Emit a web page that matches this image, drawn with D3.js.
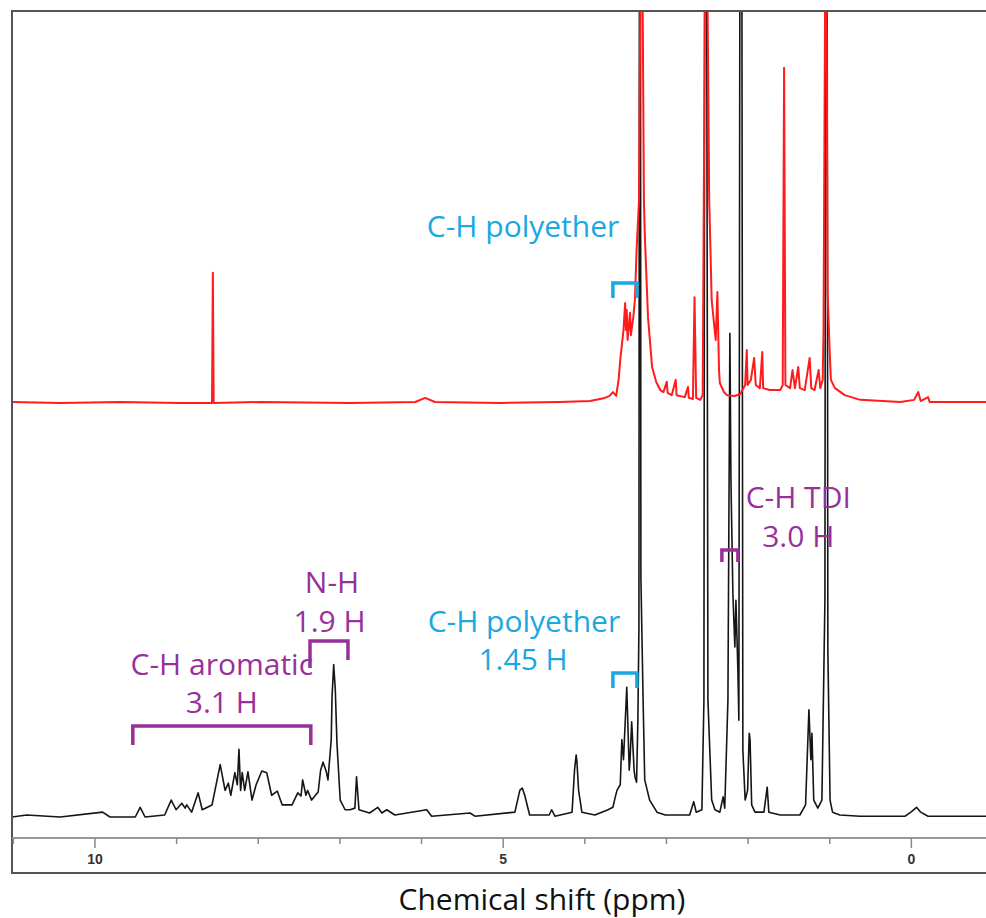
<!DOCTYPE html>
<html>
<head>
<meta charset="utf-8">
<script src="https://d3js.org/d3.v7.min.js"></script>
<style>
  body { margin: 0; background: #fff; }
  svg { display: block; }
</style>
</head>
<body>
<svg></svg>
<script>

// black trace (lower): [ppm, intensity a.u.]
var blackSpectrum = [
  [11.01,0],[10.83,0.25],[10.42,0],[9.90,0.6],[9.81,0],[9.50,0],[9.44,1.2],[9.38,0],
  [9.14,0.25],[9.06,2.1],[9.00,0.9],[8.93,1.7],[8.89,1.1],[8.87,1.5],[8.81,0.6],[8.73,3.0],
  [8.68,0.9],[8.56,1.5],[8.46,6.5],[8.40,3.3],[8.36,4.2],[8.33,2.7],[8.28,5.5],[8.25,4.0],
  [8.23,8.4],[8.21,3.3],[8.19,5.5],[8.16,3.3],[8.12,5.6],[8.07,2.1],[8.02,4.0],[7.95,5.7],
  [7.89,5.5],[7.83,2.7],[7.76,3.2],[7.70,1.5],[7.58,1.5],[7.51,3.0],[7.47,2.6],[7.45,4.6],
  [7.41,2.7],[7.39,3.3],[7.34,2.1],[7.26,3.1],[7.23,5.8],[7.20,6.8],[7.16,5.6],[7.14,4.6],
  [7.10,9.6],[7.09,14.9],[7.07,18.9],[7.05,15.8],[7.03,9.2],[6.99,2.1],[6.93,0.9],[6.87,0.9],
  [6.81,1.1],[6.79,5.0],[6.76,0.9],[6.63,0.5],[6.53,1.2],[6.48,0.5],[6.42,0.9],[6.32,0.25],
  [5.93,0.9],[5.87,0.1],[5.40,0.5],[5.34,0.1],[4.85,0.6],[4.79,3.3],[4.76,3.6],[4.73,2.7],
  [4.67,0.25],[4.43,0.25],[4.40,0.9],[4.36,0.1],[4.15,0.6],[4.12,5.8],[4.10,7.7],[4.09,6.8],
  [4.07,3.3],[4.03,0.6],[3.87,0.25],[3.71,0.9],[3.65,1.2],[3.63,2.1],[3.60,3.3],[3.56,4.0],
  [3.54,9.6],[3.52,7.1],[3.48,16.1],[3.45,5.8],[3.44,7.1],[3.42,11.8],[3.39,5.8],[3.38,5.0],
  [3.36,4.3],[3.344,12.0],[3.331,23.6],[3.319,200],[3.307,29.7],[3.28,14.5],[3.26,4.6],[3.20,2.1],
  [3.11,0.6],[3.01,0.25],[2.71,0.25],[2.66,1.9],[2.63,0.6],[2.56,0.9],[2.535,14.5],[2.517,200],
  [2.486,14.5],[2.44,2.1],[2.40,0.9],[2.34,0.6],[2.30,2.5],[2.28,1.1],[2.241,14.5],[2.217,60],
  [2.204,41.8],[2.180,27.5],[2.156,21.1],[2.143,26.9],[2.119,18.2],[2.107,12.0],[2.082,200],[2.058,8.3],
  [2.03,2.1],[2.00,3.3],[1.98,10.4],[1.97,9.6],[1.95,1.5],[1.91,0.6],[1.80,0.6],[1.76,3.7],
  [1.74,0.6],[1.60,0.25],[1.36,0.25],[1.29,1.5],[1.249,13.3],[1.225,7.1],[1.212,10.4],[1.19,2.1],
  [1.14,1.1],[1.09,2.1],[1.053,26.9],[1.035,200],[1.017,20.7],[0.99,2.1],[0.96,0.6],[0.87,0.25],
  [0.62,0.1],[0.07,0.1],[0.00,0.6],[-0.07,1.2],[-0.12,0.6],[-0.21,0.1],[-0.92,0.1]
];

// red trace (upper): [ppm, intensity a.u.]
var redSpectrum = [
  [11.01,0.25],[10.42,0],[9.69,0.25],[8.95,0],[8.59,0],[8.56,0],[8.55,33.2],[8.54,0],
  [7.97,0.25],[6.87,0],[6.07,0.25],[5.95,1.3],[5.83,0.25],[5.03,0],[4.30,0.25],[3.93,0.5],
  [3.75,1.3],[3.69,1.8],[3.65,2.8],[3.61,1.8],[3.58,5.9],[3.56,11.0],[3.54,14.8],[3.52,18.6],
  [3.50,25.5],[3.49,18.6],[3.48,23.7],[3.47,16.1],[3.44,23.0],[3.43,17.3],[3.40,21.9],[3.38,26.3],
  [3.36,39.0],[3.33,51.8],[3.30,150],[3.27,51.8],[3.26,43.4],[3.22,21.9],[3.17,9.2],[3.12,5.4],
  [3.07,3.3],[3.03,2.8],[2.99,5.4],[2.98,2.6],[2.93,2.0],[2.88,5.9],[2.87,2.0],[2.77,1.5],
  [2.73,4.1],[2.72,1.3],[2.67,1.0],[2.65,27.0],[2.63,1.3],[2.58,0.8],[2.55,2.0],[2.51,150],
  [2.47,51.8],[2.46,43.4],[2.44,26.3],[2.40,17.9],[2.39,16.1],[2.37,28.3],[2.35,8.4],[2.34,5.1],
  [2.29,2.8],[2.25,2.0],[2.16,1.8],[2.09,2.3],[2.03,4.6],[2.01,13.5],[2.00,4.6],[1.96,5.9],
  [1.92,11.5],[1.90,4.6],[1.85,3.8],[1.82,13.0],[1.81,3.8],[1.73,3.3],[1.60,3.3],[1.57,4.6],
  [1.553,85.5],[1.537,4.6],[1.48,3.8],[1.45,8.4],[1.42,3.8],[1.38,9.2],[1.36,3.8],[1.30,3.3],
  [1.24,11.5],[1.22,3.8],[1.18,3.3],[1.13,8.4],[1.11,3.8],[1.08,5.9],[1.07,18.6],[1.04,150],
  [1.02,28.3],[1.00,16.1],[0.98,5.9],[0.93,3.8],[0.81,2.0],[0.62,0.8],[0.13,0.25],[-0.04,0.8],
  [-0.09,2.8],[-0.12,0.5],[-0.21,1.5],[-0.23,0.25],[-0.92,0.25]
];

var minorTicks = [11, 9, 8, 7, 6, 4, 3, 2, 1];
var majorTicks = [10, 5, 0];

// annotations
var labelTexts = ["C-H polyether", "C-H polyether", "1.45 H", "C-H TDI", "3.0 H",
                  "N-H", "1.9 H", "C-H aromatic", "3.1 H"];
var labelPpm = [4.75, 4.74, 4.75, 1.38, 1.38, 7.09, 7.12, 8.44, 8.44];
var labelGroup = ["cyan", "cyan", "cyan", "purple", "purple", "purple", "purple", "purple", "purple"];
var bracketPpm = [[3.65, 3.356], [3.65, 3.356], [2.315, 2.119], [7.36, 6.895], [9.53, 7.35]];
var bracketGroup = ["cyan", "cyan", "purple", "purple", "purple"];

function draw() {
    var width = 986,
        height = 918;

    var colors = { cyan: "#1aa8e0", purple: "#98309a" };

    var x = d3.scaleLinear().domain([11.01, -0.92]).range([12, 986]);
    var yBlack = d3.scaleLinear().domain([0, 100]).range([817, 11]);
    var yRed = d3.scaleLinear().domain([0, 100]).range([403, 11]);

    var svg = d3.select("svg")
        .attr("width", width)
        .attr("height", height);

    svg.selectAll("*").remove();

    svg.append("clipPath").attr("id", "plot")
        .append("rect").attr("x", 12).attr("y", 11).attr("width", 980).attr("height", 827);

    var lineB = d3.line().x(function(d) { return x(d[0]); }).y(function(d) { return yBlack(d[1]); });
    var lineR = d3.line().x(function(d) { return x(d[0]); }).y(function(d) { return yRed(d[1]); });

    var plot = svg.append("g").attr("clip-path", "url(#plot)");

    plot.append("path")
        .attr("d", lineB(blackSpectrum))
        .attr("fill", "none")
        .attr("stroke", "#151515")
        .attr("stroke-width", 1.6)
        .attr("stroke-linejoin", "round");

    plot.append("path")
        .attr("d", lineR(redSpectrum))
        .attr("fill", "none")
        .attr("stroke", "#ff1c1c")
        .attr("stroke-width", 2)
        .attr("stroke-linejoin", "round");

    // frame and axis box
    svg.append("rect")
        .attr("x", 12).attr("y", 11)
        .attr("width", 1000).attr("height", 862)
        .attr("fill", "none")
        .attr("stroke", "#555")
        .attr("stroke-width", 2);

    svg.append("line")
        .attr("x1", 12).attr("x2", 986)
        .attr("y1", 838).attr("y2", 838)
        .attr("stroke", "#999")
        .attr("stroke-width", 2);

    var minorAxis = d3.axisBottom(x).tickValues(minorTicks).tickSize(6).tickFormat("");
    var majorAxis = d3.axisBottom(x).tickValues(majorTicks).tickSize(10).tickPadding(6)
        .tickFormat(d3.format("d"));

    var gMinor = svg.append("g").attr("transform", "translate(0,838)").call(minorAxis);
    var gMajor = svg.append("g").attr("transform", "translate(0,838)").call(majorAxis);

    [gMinor, gMajor].forEach(function(g) {
        g.select(".domain").remove();
        g.selectAll(".tick line").attr("stroke", "#888").attr("stroke-width", 1.5);
    });
    gMajor.selectAll(".tick text")
        .attr("fill", "#333")
        .style("font-family", "'Liberation Sans', Arial, sans-serif")
        .style("font-weight", "bold")
        .style("font-size", "14px");

    svg.append("text")
        .attr("x", 542).attr("y", 910)
        .attr("text-anchor", "middle")
        .style("font-family", "'Open Sans', sans-serif")
        .style("font-size", "30px")
        .attr("fill", "#111")
        .text("Chemical shift (ppm)");

    // annotation layout (baselines, bracket top / leg ends)
    var labelBaseline = [237, 632, 670, 508, 547, 593, 632, 675, 713];
    var bracketTop = [283, 673, 550, 641, 726];
    var bracketLegs = [[298, 298], [688, 688], [562, 562], [668, 660], [745, 745]];

    svg.selectAll(".lab")
        .data(labelTexts)
        .enter().append("text")
        .attr("class", "lab")
        .attr("x", function(d, i) { return x(labelPpm[i]); })
        .attr("y", function(d, i) { return labelBaseline[i]; })
        .attr("text-anchor", "middle")
        .attr("fill", function(d, i) { return colors[labelGroup[i]]; })
        .style("font-family", "'Open Sans', sans-serif")
        .style("font-size", "30px")
        .text(function(d) { return d; });

    svg.selectAll(".bracket")
        .data(bracketPpm)
        .enter().append("path")
        .attr("class", "bracket")
        .attr("d", function(d, i) {
            var x1 = x(d[0]), x2 = x(d[1]);
            return "M" + x1 + "," + bracketLegs[i][0] + "V" + bracketTop[i] +
                   "H" + x2 + "V" + bracketLegs[i][1];
        })
        .attr("fill", "none")
        .attr("stroke", function(d, i) { return colors[bracketGroup[i]]; })
        .attr("stroke-width", 3.5)
        .attr("stroke-linejoin", "miter");
}

draw();
</script>
</body>
</html>
